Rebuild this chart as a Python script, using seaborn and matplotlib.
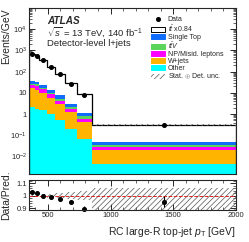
"""
RC large-R top-jet pT: stacked prediction vs data with ratio panel.
"""

import matplotlib
matplotlib.use("Agg")
import matplotlib.pyplot as plt
from matplotlib.lines import Line2D
from matplotlib.patches import Patch
from matplotlib.ticker import FixedLocator, FixedFormatter, MultipleLocator, LogLocator, NullFormatter
import numpy as np
import pandas as pd
import seaborn as sns

# binning (GeV)
bin_edges = [350, 400, 430, 490, 560, 640, 730, 850, 2000]

# stacked predictions, Events/GeV (top of stack first)
ttbar = [645, 497, 327, 155, 69.3, 25.9, 7.57, 0.266]
single_top = [8.3, 7.2, 5.0, 3.0, 2.3, 0.94, 0.34, 0.015]
ttv = [4.1, 5.0, 3.0, 1.7, 1.25, 0.34, 0.18, 0.0067]
np_misid = [6.3, 6.2, 4.5, 2.6, 1.25, 0.56, 0.18, 0.0074]
wjets = [14.4, 12.5, 8.8, 4.9, 2.4, 1.05, 0.36, 0.015]
other = [2.1, 1.82, 1.51, 1.06, 0.51, 0.207, 0.07, 0.0046]

# data
data = [700, 543, 350, 166, 74.8, 27.6, 7.8, 0.30]
data_rel_err = [0.005, 0.006, 0.008, 0.01, 0.012, 0.015, 0.02, 0.045]

# stat (+) det. uncertainty, relative
unc_up = [0.008, 0.008, 0.01, 0.015, 0.02, 0.03, 0.035, 0.06]
unc_down = [0.008, 0.008, 0.01, 0.015, 0.02, 0.03, 0.035, 0.15]

process_labels = ["$t\\bar{t}$ x0.84", "Single Top", "$t\\bar{t}V$",
                  "NP/Misid. leptons", "W+jets", "Other"]
process_colors = ["white", "#0f6cfd", "#5bd45b", "#ff00ff", "#ffb400", "#00ffff"]

y_ticks = [1e-2, 1e-1, 1, 10, 1e2, 1e3, 1e4]
y_tick_labels = ["$10^{-2}$", "$10^{-1}$", "1", "10", "$10^{2}$", "$10^{3}$", "$10^{4}$"]

sns.set_style("ticks")
plt.rcParams["font.family"] = ["Liberation Sans", "DejaVu Sans"]
plt.rcParams["mathtext.fontset"] = "custom"
plt.rcParams["mathtext.rm"] = "Liberation Sans"
plt.rcParams["mathtext.it"] = "Liberation Sans:italic"
plt.rcParams["hatch.linewidth"] = 0.5

edges = np.array(bin_edges, dtype=float)
centers = 0.5 * (edges[1:] + edges[:-1])
components = [ttbar, single_top, ttv, np_misid, wjets, other]
total = np.sum(np.array(components), axis=0)
data_arr = np.array(data)
ratio = data_arr / total
ratio_err = ratio * np.array(data_rel_err)

# long-form table for seaborn stacking
rows = []
for lab, vals in zip(process_labels, components):
    for c, v in zip(centers, vals):
        rows.append({"pt": c, "w": v, "process": lab})
df = pd.DataFrame(rows)

fig = plt.figure(figsize=(2.49, 2.42), dpi=100)
ax = fig.add_axes([0.1165, 0.281, 0.831, 0.686])
axr = fig.add_axes([0.1165, 0.132, 0.831, 0.124], sharex=ax)

ax.set_yscale("log")
sns.histplot(data=df, x="pt", weights="w", hue="process", hue_order=process_labels,
             palette=dict(zip(process_labels, process_colors)), bins=bin_edges,
             multiple="stack", element="step", fill=True, alpha=1, linewidth=0,
             legend=False, ax=ax)
ax.stairs(total, edges, color="black", linewidth=0.9)

# uncertainty band
up = np.append(total * (1 + np.array(unc_up)), 0)
dn = np.append(total * (1 - np.array(unc_down)), 0)
ax.fill_between(edges, dn, up, step="post", facecolor="none", edgecolor="#555555",
                hatch="//////", linewidth=0)
ax.errorbar(centers, data_arr, yerr=data_arr * np.array(data_rel_err), fmt="o",
            color="black", markersize=2.6, elinewidth=0.8, capsize=0)

ax.set_xlim(350, 2000)
ax.set_ylim(1.5e-3, 1e5)
ax.yaxis.set_major_locator(FixedLocator(y_ticks))
ax.yaxis.set_major_formatter(FixedFormatter(y_tick_labels))
ax.yaxis.set_minor_locator(LogLocator(base=10, subs=np.arange(2, 10), numticks=20))
ax.yaxis.set_minor_formatter(NullFormatter())
ax.set_ylabel("Events/GeV", fontsize=7.5, loc="top")
ax.set_xlabel("")
plt.setp(ax.get_xticklabels(), visible=False)

ax.text(0.087, 0.92, "ATLAS", transform=ax.transAxes, fontsize=7.2,
        fontweight="bold", fontstyle="italic", va="center")
ax.text(0.087, 0.855, "$\\sqrt{s}$ = 13 TeV, 140 fb$^{-1}$", transform=ax.transAxes,
        fontsize=6.8, va="center")
ax.text(0.087, 0.789, "Detector-level l+jets", transform=ax.transAxes,
        fontsize=6.8, va="center")

handles = [Line2D([], [], marker="o", color="black", linestyle="none", markersize=2.6)]
for lab, col in zip(process_labels, process_colors):
    handles.append(Patch(facecolor=col, edgecolor="black" if col == "white" else col,
                         linewidth=0.7))
handles.append(Patch(facecolor="none", edgecolor="#555555", hatch="//////", linewidth=0))
labels = ["Data"] + process_labels + ["Stat. $\\oplus$ Det. unc."]
ax.legend(handles, labels, loc="upper left", bbox_to_anchor=(0.59, 0.95),
          frameon=False, fontsize=5.0, handlelength=2.0, handleheight=0.75,
          labelspacing=0.0, handletextpad=0.4, borderpad=0, borderaxespad=0)

# ratio panel
axr.fill_between(edges, np.append(1 - np.array(unc_down), 0), np.append(1 + np.array(unc_up), 0),
                 step="post", facecolor="none", edgecolor="#555555", hatch="//////", linewidth=0)
axr.axhline(1, color="#e02020", linestyle="--", linewidth=0.7)
axr.errorbar(centers, ratio, yerr=ratio_err, fmt="o", color="black",
             markersize=2.6, elinewidth=0.8, capsize=0, clip_on=False)
axr.set_ylim(0.885, 1.125)
axr.yaxis.set_major_locator(FixedLocator([0.9, 1.0, 1.1]))
axr.yaxis.set_major_formatter(FixedFormatter(["0.9", "1", "1.1"]))
axr.yaxis.set_minor_locator(MultipleLocator(0.02))
axr.xaxis.set_major_locator(FixedLocator([500, 1000, 1500, 2000]))
axr.xaxis.set_minor_locator(MultipleLocator(100))
axr.set_ylabel("Data/Pred.", fontsize=7.5)
axr.set_xlabel("RC large-R top-jet $p_{\\mathrm{T}}$ [GeV]", fontsize=7.5, loc="right")

for a in (ax, axr):
    a.tick_params(which="both", direction="in", top=True, right=True, labelsize=5.5, pad=1.5)
    a.tick_params(which="major", length=4, width=0.7)
    a.tick_params(which="minor", length=2, width=0.5)
    for s in a.spines.values():
        s.set_linewidth(0.8)

ax.yaxis.set_label_coords(-0.088, 1.0)
axr.yaxis.set_label_coords(-0.088, 0.5)

fig.savefig("out.png", dpi=100)
plt.close(fig)
